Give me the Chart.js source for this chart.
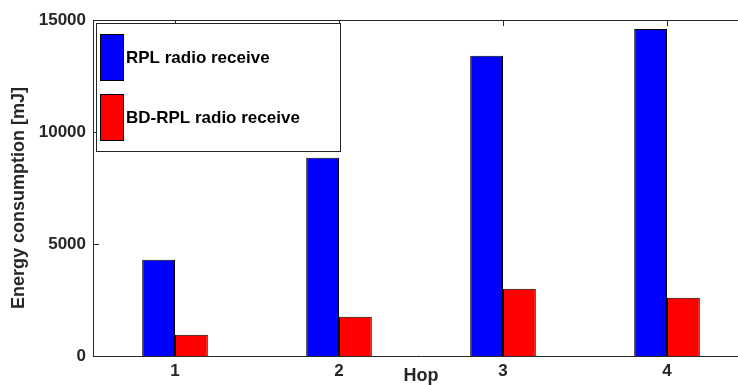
<!DOCTYPE html>
<html>
<head>
<meta charset="utf-8">
<script src="https://cdn.jsdelivr.net/npm/chart.js@4/dist/chart.umd.min.js"></script>
<style>
html,body{margin:0;padding:0;background:#fff;overflow:hidden;width:738px;height:385px;}
#wrap{position:absolute;left:0;top:0;width:760px;height:385px;}
</style>
</head>
<body>
<div id="wrap"><canvas id="c" width="760" height="385"></canvas></div>
<script>
const categories = ['1', '2', '3', '4'];
const rplReceive = [4300, 8850, 13400, 14600];
const bdRplReceive = [950, 1750, 3000, 2600];
const yTicks = [0, 5000, 10000, 15000];
const seriesNames = ['RPL radio receive', 'BD-RPL radio receive'];
const xTitle = 'Hop';
const yTitle = 'Energy consumption [mJ]';

const AXIS = '#262626';
const FONT = '"Liberation Sans", Arial, Helvetica, sans-serif';

const framePlugin = {
  id: 'frame',
  beforeDatasetsDraw(chart) {
    const {ctx, chartArea: a, scales: {x, y}} = chart;
    ctx.save();
    ctx.strokeStyle = AXIS;
    ctx.lineWidth = 1;
    ctx.beginPath();
    ctx.moveTo(a.left, a.top + 0.5);
    ctx.lineTo(a.right, a.top + 0.5);
    for (let i = 0; i < categories.length; i++) {
      const px = Math.round(x.getPixelForTick(i)) + 0.5;
      ctx.moveTo(px, a.top);
      ctx.lineTo(px, a.top + 6);
      ctx.moveTo(px, a.bottom);
      ctx.lineTo(px, a.bottom - 6);
    }
    yTicks.forEach(v => {
      const py = Math.round(y.getPixelForValue(v)) + 0.5;
      ctx.moveTo(a.left, py);
      ctx.lineTo(a.left + 6, py);
    });
    ctx.stroke();
    // y-axis title (MATLAB places it slightly below the axis centre)
    ctx.save();
    ctx.translate(19, (a.top + a.bottom) / 2 + 10);
    ctx.rotate(-Math.PI / 2);
    ctx.font = 'bold 18px ' + FONT;
    ctx.fillStyle = AXIS;
    ctx.textAlign = 'center';
    ctx.textBaseline = 'middle';
    ctx.fillText(yTitle, 0, 0);
    ctx.restore();
    ctx.restore();
  },
  afterDatasetsDraw(chart) {
    const {ctx, chartArea: a} = chart;
    const bx = a.left + 3.5, by = a.top + 3.5, bw = 244, bh = 128;
    ctx.save();
    ctx.fillStyle = '#fff';
    ctx.fillRect(bx, by, bw, bh);
    ctx.strokeStyle = AXIS;
    ctx.lineWidth = 1;
    ctx.strokeRect(bx, by, bw, bh);
    ctx.font = 'bold 17px ' + FONT;
    ctx.textBaseline = 'middle';
    chart.data.datasets.forEach((ds, i) => {
      const sx = a.left + 7.5, sy = a.top + 14.5 + i * 60, sw = 23, sh = 46;
      ctx.fillStyle = ds.backgroundColor;
      ctx.fillRect(sx, sy, sw, sh);
      ctx.strokeStyle = '#000';
      ctx.strokeRect(sx, sy, sw, sh);
      ctx.fillStyle = '#000';
      ctx.fillText(ds.label, a.left + 33, sy + sh / 2 + 1);
    });
    ctx.restore();
  }
};

new Chart(document.getElementById('c'), {
  type: 'bar',
  data: {
    labels: categories,
    datasets: [
      {label: seriesNames[0], data: rplReceive, backgroundColor: '#0000ff', borderColor: '#000', borderWidth: 1},
      {label: seriesNames[1], data: bdRplReceive, backgroundColor: '#ff0000', borderColor: '#000', borderWidth: 1}
    ]
  },
  options: {
    responsive: false,
    animation: false,
    devicePixelRatio: 1,
    layout: {padding: {top: 20, right: 11, left: 0, bottom: 0}},
    datasets: {bar: {categoryPercentage: 0.4, barPercentage: 1}},
    plugins: {legend: {display: false}, tooltip: {enabled: false}},
    scales: {
      x: {
        grid: {display: false, drawTicks: false},
        border: {display: true, color: AXIS, width: 1},
        ticks: {color: AXIS, font: {family: FONT, size: 17, weight: 'bold'}, padding: 5, maxRotation: 0},
        title: {display: true, text: xTitle, color: AXIS, font: {family: FONT, size: 18, weight: 'bold', lineHeight: 1}, padding: {top: 0, bottom: 0}},
        afterFit(s) { s.height = 29; }
      },
      y: {
        min: 0, max: 15000,
        grid: {display: false, drawTicks: false},
        border: {display: true, color: AXIS, width: 1},
        afterBuildTicks(s) { s.ticks = yTicks.map(v => ({value: v})); },
        ticks: {color: AXIS, font: {family: FONT, size: 17, weight: 'bold'}, padding: 7, callback: v => String(v)},
        title: {display: false},
        afterFit(s) { s.width = 93; }
      }
    }
  },
  plugins: [framePlugin]
});
</script>
</body>
</html>
